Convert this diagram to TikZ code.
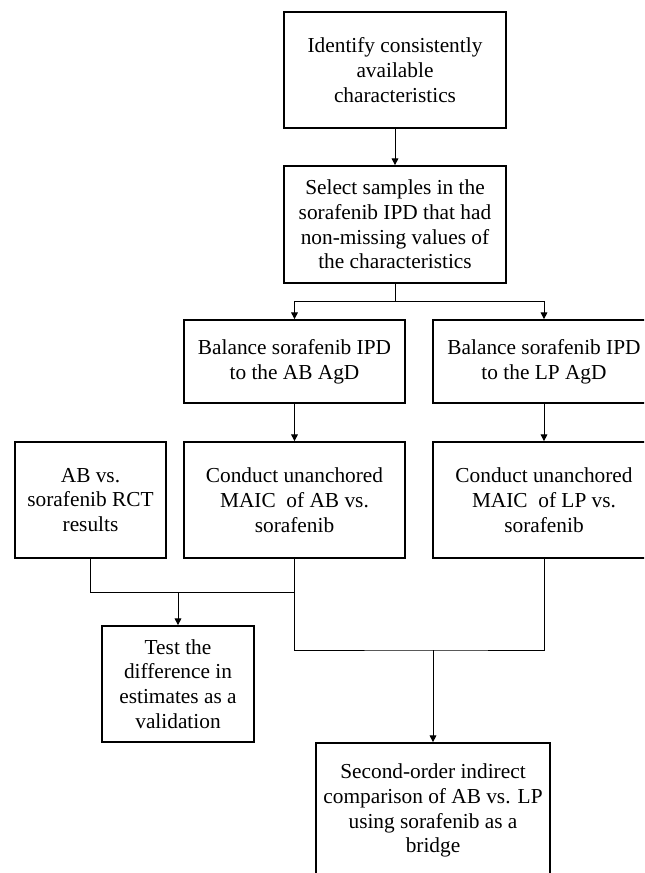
\documentclass[tikz,border=0pt]{standalone}
\usepackage{fontspec}
\setmainfont{Liberation Serif}
\usetikzlibrary{arrows.meta}

\begin{document}
\begin{tikzpicture}[x=0.75pt, y=-0.75pt,
	every node/.style={text centered},
	blk/.style={rectangle, draw, line width=1.3pt, align=center, inner sep=0pt,
		font=\fontsize{16}{18.6}\selectfont},
	conn/.style={line width=0.6pt},
	arr/.style={conn, -{Triangle[length=5pt, width=5pt]}}]
	\useasboundingbox (0,0) rectangle (644,873);
	\clip (0,0) rectangle (644,873);

	\node[blk, minimum width=166.5pt, minimum height=87pt] (ident) at (395,70)
		{Identify consistently\\available\\characteristics};
	\node[blk, minimum width=166.5pt, minimum height=87.75pt] (select) at (395,224.5)
		{Select samples in the\\sorafenib IPD that had\\non-missing values of\\the characteristics};

	\node[blk, minimum width=165.75pt, minimum height=62.25pt] (balAB) at (294.5,361.5)
		{Balance sorafenib IPD\\to the AB AgD};
	\node[blk, minimum width=166.5pt, minimum height=62.25pt] (balLP) at (544,361.5)
		{Balance sorafenib IPD\\to the LP AgD};

	\node[blk, minimum width=113.25pt, minimum height=87pt] (rct) at (90.5,500)
		{AB vs.\\sorafenib RCT\\results};
	\node[blk, minimum width=165.75pt, minimum height=87pt] (maicAB) at (294.5,500)
		{Conduct unanchored\\MAIC\ \ of AB vs.\\sorafenib};
	\node[blk, minimum width=166.5pt, minimum height=87pt] (maicLP) at (544,500)
		{Conduct unanchored\\MAIC\ \ of LP vs.\\sorafenib};

	\node[blk, minimum width=114pt, minimum height=87pt] (test) at (178,684)
		{Test the\\difference in\\estimates as a\\validation};
	\node[blk, minimum width=175.5pt, minimum height=101.25pt] (second) at (433,810.5)
		{Second-order indirect\\comparison of AB vs. LP\\using sorafenib as a\\bridge};

	\coordinate (split) at (395,301);
	\coordinate (jtest) at (178,592);
	\coordinate (jsec) at (433,650);

	\draw[arr] (ident) -- (select);
	\draw[conn] (select) -- (split);
	\draw[arr] (split) -| (balAB.north);
	\draw[arr] (split) -| (balLP.north);
	\draw[arr] (balAB) -- (maicAB);
	\draw[arr] (balLP) -- (maicLP);

	\draw[conn] (rct.south) |- (maicAB.south |- jtest);
	\draw[arr] (jtest) -- (test.north);
	\draw[conn] (maicAB.south) |- (jsec) -| (maicLP.south);
	\draw[arr] (jsec) -- (second.north);
\end{tikzpicture}
\end{document}
